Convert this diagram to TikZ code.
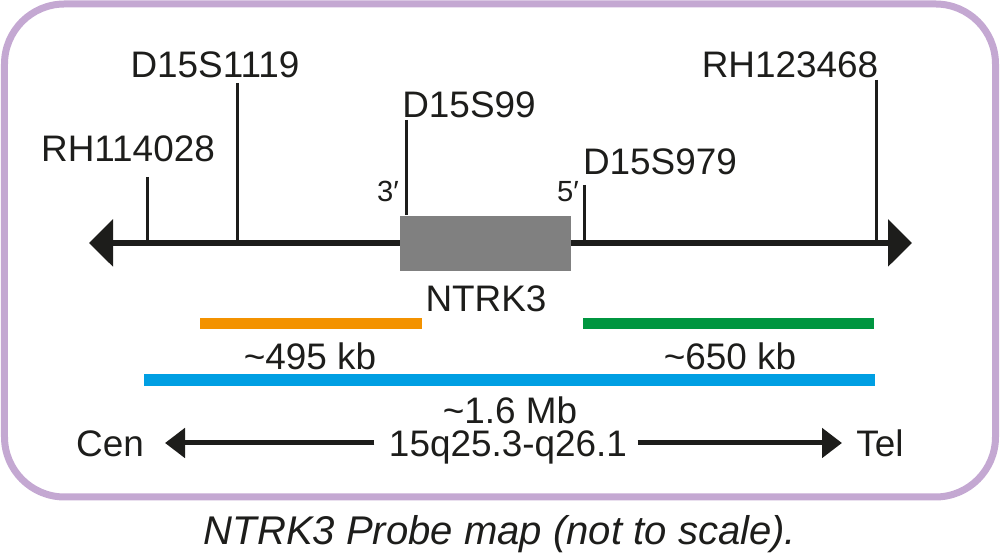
\documentclass[tikz,border=0pt]{standalone}
\usepackage{fontspec}
\setmainfont{Liberation Sans}
\usetikzlibrary{arrows.meta}
\definecolor{ink}{RGB}{29,29,27}
\definecolor{framepurple}{RGB}{196,168,210}
\definecolor{probeorange}{RGB}{243,146,0}
\definecolor{probegreen}{RGB}{0,150,64}
\definecolor{probeblue}{RGB}{0,159,227}
\definecolor{genegray}{RGB}{128,128,128}

\begin{document}
\begin{tikzpicture}[x=0.1mm,y=-0.1mm,
    lbl/.style={anchor=base,inner sep=0pt,text=ink,font=\fontsize{10.5}{12}\selectfont},
    small/.style={anchor=base,inner sep=0pt,text=ink,font=\fontsize{8.3}{10}\selectfont},
    tick/.style={draw=ink,line width=0.3mm},
    bar/.style={line width=1.15mm},
    mainline/.style={draw=ink,line width=0.6mm,
      {Triangle[length=2.4mm,width=4.6mm]}-{Triangle[length=2.4mm,width=4.6mm]}},
    bandarrow/.style={draw=ink,line width=0.5mm,-{Triangle[length=2mm,width=2.9mm]}}]
      \useasboundingbox (0,0) rectangle (1000,558);
      \draw[framepurple, line width=0.7mm, rounded corners=6mm] (4.5,4) rectangle (995.5,497);

      % chromosome line and gene
      \coordinate (lend) at (89,243);
      \coordinate (rend) at (912,243);
      \draw[mainline] (lend) -- (rend);
      \node[fill=genegray, minimum width=17.1mm, minimum height=5.5mm, inner sep=0pt] (gene) at (485.5,243.5) {};
      \node[lbl] (genelbl) at (486,312) {NTRK3};
      \node[small] (three) at (388,202) {3′};
      \node[small] (five) at (568,202) {5′};

      % markers
      \coordinate (m1) at (147,177);
      \coordinate (m2) at (237,83);
      \coordinate (m3) at (406,120);
      \coordinate (m4) at (584,185);
      \coordinate (m5) at (876,80);
      \draw[tick] (m1) -- (m1 |- lend);
      \draw[tick] (m2) -- (m2 |- lend);
      \draw[tick] (m3) -- (m3 |- gene.north);
      \draw[tick] (m4) -- (m4 |- lend);
      \draw[tick] (m5) -- (m5 |- lend);
      \node[lbl] (rhleft) at (128,162) {RH114028};
      \node[lbl] (dfirst) at (215,78) {D15S1119};
      \node[lbl] (dmid) at (469,118) {D15S99};
      \node[lbl] (dright) at (660,175) {D15S979};
      \node[lbl] (rhright) at (790,78) {RH123468};

      % probes
      \coordinate (or1) at (200,323.5);
      \coordinate (or2) at (422,323.5);
      \coordinate (gr1) at (583,323.5);
      \coordinate (gr2) at (874,323.5);
      \coordinate (bl1) at (144,380);
      \coordinate (bl2) at (875,380);
      \draw[bar, probeorange] (or1) -- (or2);
      \draw[bar, probegreen] (gr1) -- (gr2);
      \draw[bar, probeblue] (bl1) -- (bl2);
      \node[lbl] (orlbl) at (310,370) {\textasciitilde495 kb};
      \node[lbl] (grlbl) at (730,370) {\textasciitilde650 kb};
      \node[lbl] (bllbl) at (510,424) {\textasciitilde1.6 Mb};

      % orientation
      \node[lbl] (band) at (508,457) {15q25.3-q26.1};
      \node[lbl] (cen) at (110,457) {Cen};
      \node[lbl] (tel) at (880,457) {Tel};
      \draw[bandarrow] ([yshift=1.4mm]band.base west) ++(-14,0) coordinate (bl) -- (bl -| 165,0);
      \draw[bandarrow] ([yshift=1.4mm]band.base east) ++(10,0) coordinate (br) -- (br -| 842,0);

      \node[anchor=base, inner sep=0pt, text=ink, font=\fontsize{11.4}{13}\selectfont\itshape] (caption) at (500,545) {NTRK3 Probe map (not to scale).};
\end{tikzpicture}
\end{document}
